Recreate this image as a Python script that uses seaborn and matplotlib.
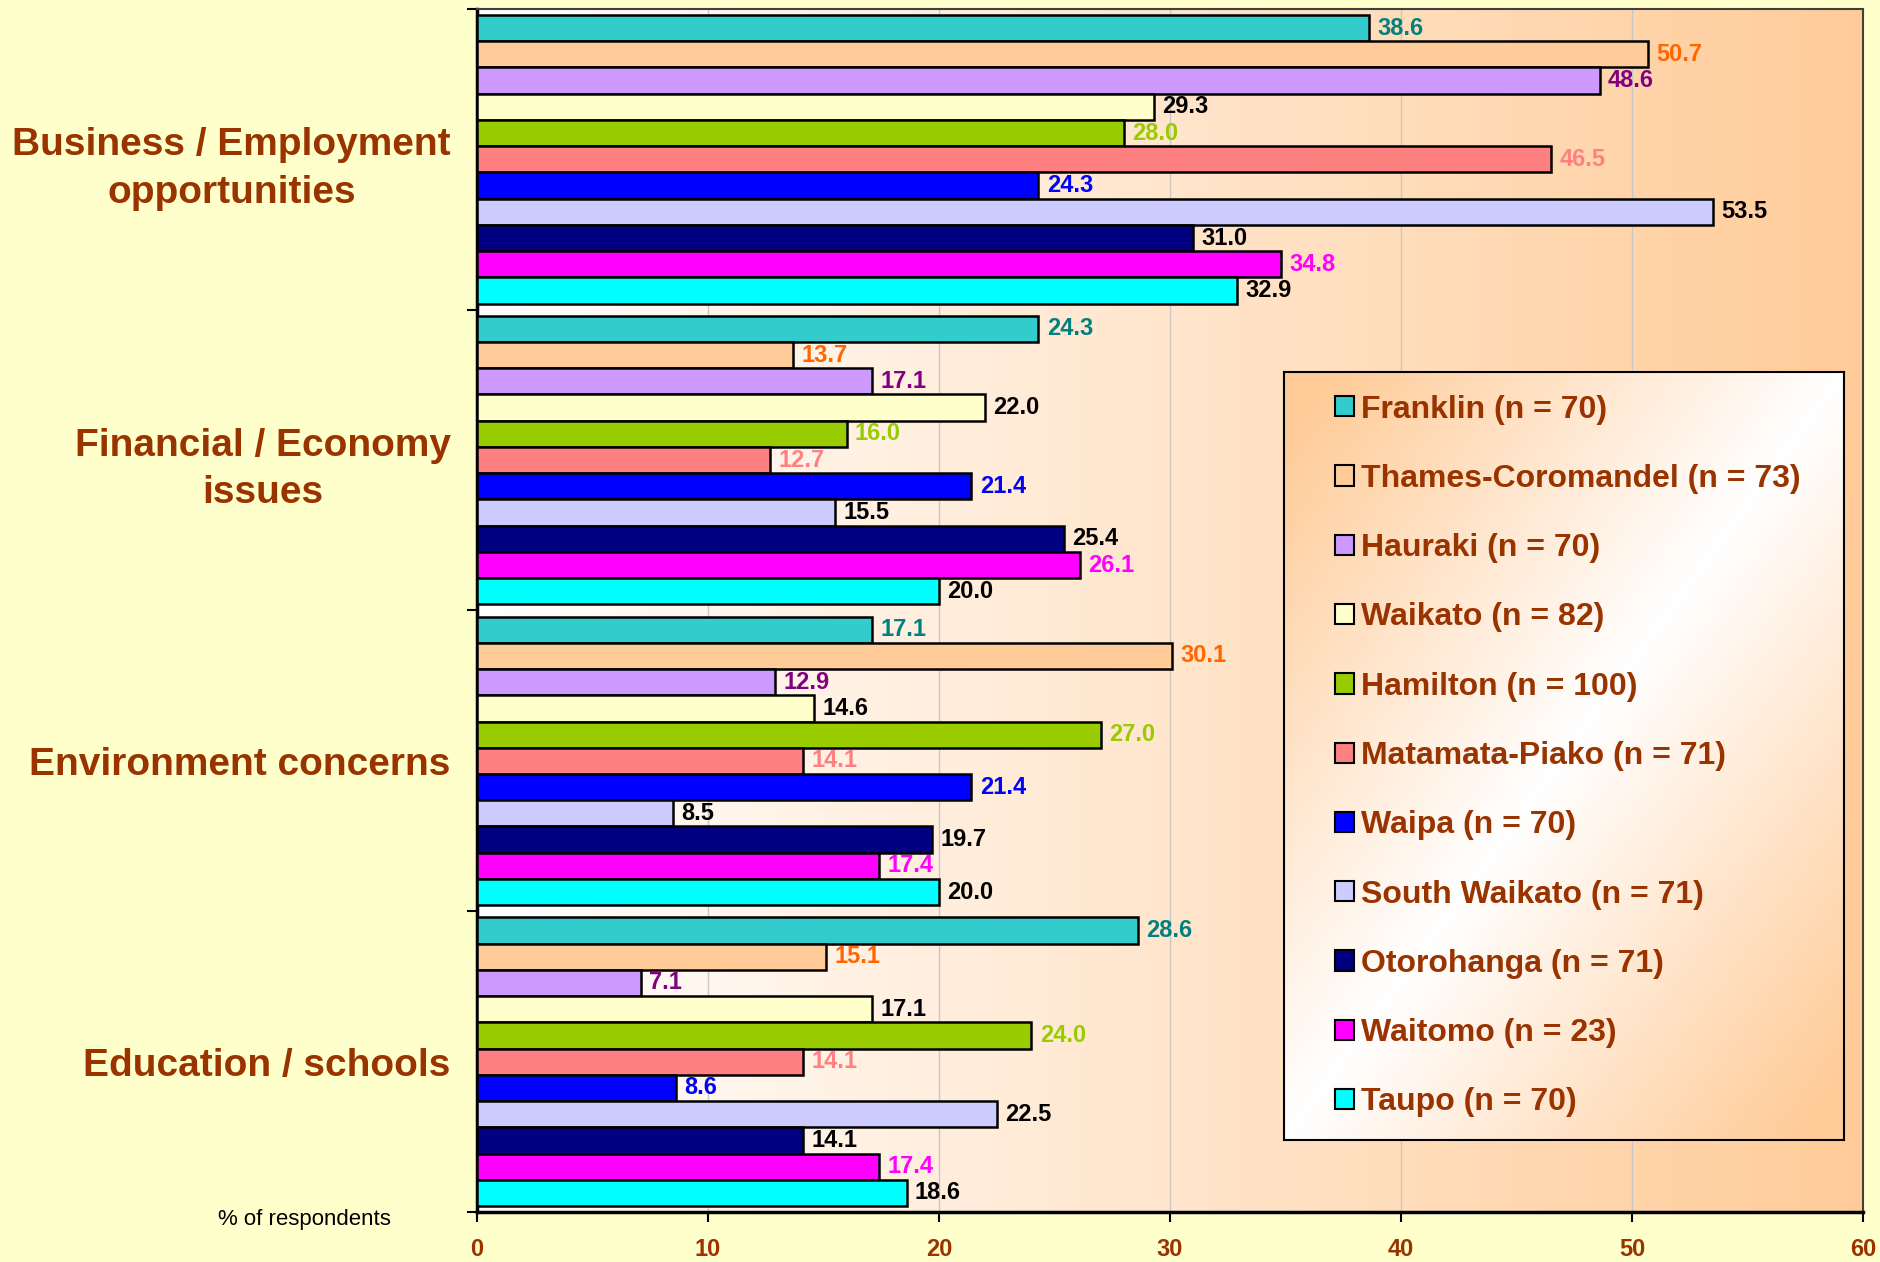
"""Community issues by district: grouped horizontal bar chart."""

import matplotlib

matplotlib.use("Agg")
import matplotlib.pyplot as plt
import numpy as np
import pandas as pd
import seaborn as sns
from matplotlib.patches import Patch


CATEGORIES = [
    "Business / Employment\nopportunities",
    "Financial / Economy\nissues",
    "Environment concerns",
    "Education / schools",
]

DISTRICTS = [
    "Franklin (n = 70)",
    "Thames-Coromandel (n = 73)",
    "Hauraki (n = 70)",
    "Waikato (n = 82)",
    "Hamilton (n = 100)",
    "Matamata-Piako (n = 71)",
    "Waipa (n = 70)",
    "South Waikato (n = 71)",
    "Otorohanga (n = 71)",
    "Waitomo (n = 23)",
    "Taupo (n = 70)",
]

# one list per category, in district order
BUSINESS = [38.6, 50.7, 48.6, 29.3, 28.0, 46.5, 24.3, 53.5, 31.0, 34.8, 32.9]
FINANCIAL = [24.3, 13.7, 17.1, 22.0, 16.0, 12.7, 21.4, 15.5, 25.4, 26.1, 20.0]
ENVIRONMENT = [17.1, 30.1, 12.9, 14.6, 27.0, 14.1, 21.4, 8.5, 19.7, 17.4, 20.0]
EDUCATION = [28.6, 15.1, 7.1, 17.1, 24.0, 14.1, 8.6, 22.5, 14.1, 17.4, 18.6]

BAR_COLORS = [
    "#33CCCC", "#FFCC99", "#CC99FF", "#FFFFCC", "#99CC00", "#FF8080",
    "#0000FF", "#CCCCFF", "#000080", "#FF00FF", "#00FFFF",
]
LABEL_COLORS = [
    "#008080", "#FF6600", "#800080", "#000000", "#99CC00", "#FF8080",
    "#0000FF", "#000000", "#000000", "#FF00FF", "#000000",
]

BROWN = "#993300"
PEACH = np.array([1.0, 0.8, 0.6])
FONT = ["Liberation Sans", "DejaVu Sans"]


def build_dataframe():
    rows = []
    for cat, values in zip(CATEGORIES, [BUSINESS, FINANCIAL, ENVIRONMENT, EDUCATION]):
        for district, value in zip(DISTRICTS, values):
            rows.append({"Category": cat, "District": district, "Value": value})
    return pd.DataFrame(rows)


def gradient_image(kind, n=256):
    x = np.linspace(0, 1, n)
    if kind == "horizontal":
        t = np.tile(x, (2, 1))
    else:
        xx, yy = np.meshgrid(x, x)
        # image row 0 is drawn at top (origin upper)
        t = np.clip(np.abs(xx - (1 - yy)) * 1.1, 0, 1)
    img = 1 - t[..., None] * (1 - PEACH)
    return img


def main():
    df = build_dataframe()

    fig = plt.figure(figsize=(18.81, 12.62), dpi=100, facecolor="#FFFFCC")
    ax = fig.add_axes([0.2536, 0.0396, 0.7368, 0.9533])

    ax.imshow(gradient_image("horizontal"), extent=[0, 60, 3.5, -0.5],
              aspect="auto", zorder=0, interpolation="bilinear")

    sns.barplot(
        data=df, y="Category", x="Value", hue="District",
        order=CATEGORIES, hue_order=DISTRICTS, palette=BAR_COLORS,
        orient="h", width=0.96, errorbar=None, edgecolor="black",
        linewidth=1.8, saturation=1, legend=False, ax=ax, zorder=3,
    )

    for container, color in zip(ax.containers, LABEL_COLORS):
        ax.bar_label(container, fmt="%.1f", padding=6, color=color,
                     fontsize=17, fontweight="bold", family=FONT)

    ax.set_xlim(0, 60)
    ax.set_ylim(3.5, -0.5)
    ax.set_xticks(range(0, 61, 10))
    ax.xaxis.grid(True, color="#C8C8C8", linewidth=1, zorder=1)
    ax.set_axisbelow(True)
    ax.set_xlabel("")
    ax.set_ylabel("")

    ax.tick_params(axis="x", direction="out", length=7, width=1.5,
                   pad=12, labelsize=17, labelcolor=BROWN)
    for label in ax.get_xticklabels():
        label.set_fontweight("bold")
        label.set_family(FONT)

    ax.set_yticks(range(len(CATEGORIES)))
    ax.set_yticklabels(CATEGORIES)
    ax.tick_params(axis="y", length=0, pad=19, labelsize=28, labelcolor=BROWN)
    for label in ax.get_yticklabels():
        label.set_fontweight("bold")
        label.set_family(FONT)
        label.set_multialignment("center")
        label.set_linespacing(1.4)
        label.set_y(label.get_position()[1])
    ax.set_yticks(np.arange(-0.5, 4, 1), minor=True)
    ax.tick_params(axis="y", which="minor", direction="out", length=7, width=1.5)

    for side in ["left", "bottom"]:
        ax.spines[side].set_linewidth(2.5)
        ax.spines[side].set_color("black")
    for side in ["top", "right"]:
        ax.spines[side].set_linewidth(1.5)
        ax.spines[side].set_color("#404040")

    fig.text(0.162, 0.034, "% of respondents", fontsize=16, family=FONT,
             ha="center", va="center")

    # legend box with its own diagonal gradient
    leg_ax = fig.add_axes([1284 / 1881, 1 - 1140 / 1262, 560 / 1881, 768 / 1262])
    leg_ax.imshow(gradient_image("diagonal"), extent=[0, 1, 0, 1],
                  aspect="auto", interpolation="bilinear")
    leg_ax.set_xticks([])
    leg_ax.set_yticks([])
    for spine in leg_ax.spines.values():
        spine.set_linewidth(1.5)
        spine.set_color("black")

    handles = [Patch(facecolor=c, edgecolor="black", linewidth=1.5) for c in BAR_COLORS]
    legend = leg_ax.legend(
        handles, DISTRICTS, loc="center left", bbox_to_anchor=(0.04, 0.5),
        frameon=False, handlelength=0.6, handleheight=0.6, handletextpad=0.22,
        labelspacing=1.23, prop={"family": FONT, "weight": "bold", "size": 23},
    )
    for text in legend.get_texts():
        text.set_color(BROWN)

    fig.savefig("out.png", dpi=100, facecolor=fig.get_facecolor())


if __name__ == "__main__":
    main()
